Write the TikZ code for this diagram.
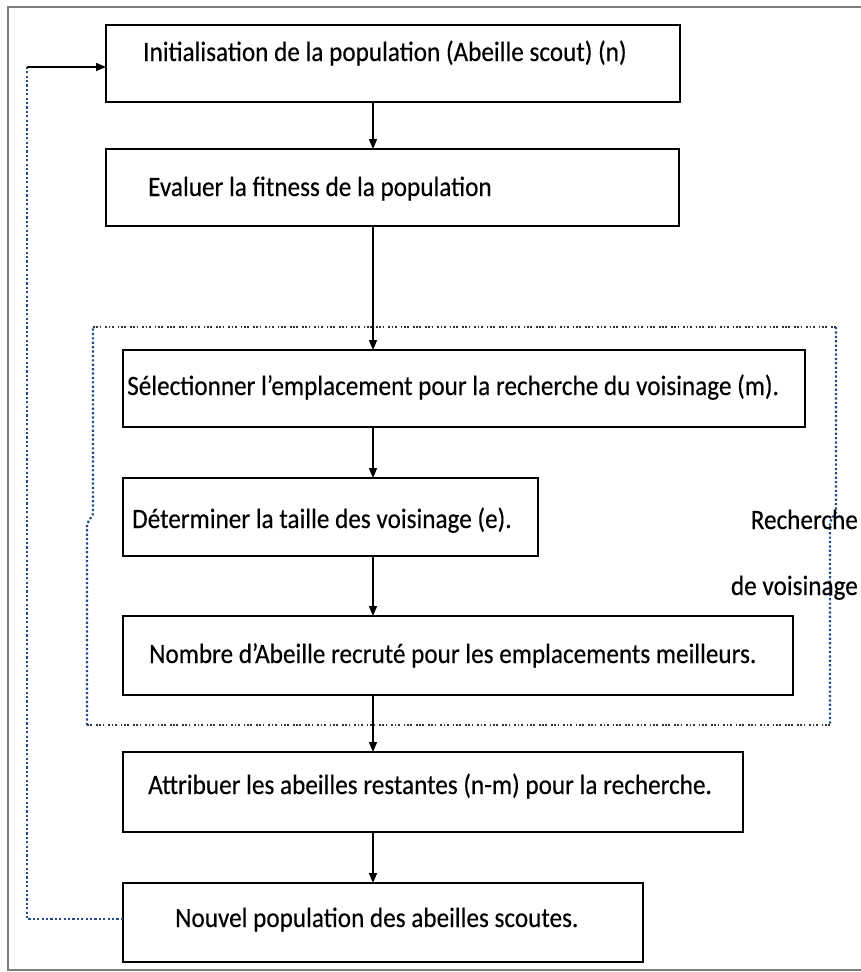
\documentclass[tikz,border=0pt]{standalone}
\usepackage{fontspec}
\setmainfont{Carlito}[FakeStretch=0.9,FakeBold=0.3]
\usepackage{tikz}
\usetikzlibrary{arrows.meta,positioning,calc}
\usepackage{xcolor}
\definecolor{dotblue} {RGB}{35,75,135}
\definecolor{framegray}{RGB}{125,125,125}

\begin{document}
\begin{tikzpicture}[x=1pt,y=-1pt,
          blk/.style={draw,line width=2pt,inner sep=0pt,outer sep=0pt,anchor=north west},
          txt/.style={inner sep=0pt,anchor=base west,font=\fontsize{28}{32}\selectfont},
          arr/.style={-{Triangle[length=10pt,width=8pt]},line width=1.5pt},
          bluedots/.style={dotblue,line width=2.3pt,dash pattern=on 2.2pt off 2.2pt},
          greydots/.style={black!80,line width=1.9pt,
                           dash pattern=on 1.7pt off 1.6pt on 1.7pt off 1.6pt on 1.7pt off 4pt}
      ]
        \useasboundingbox (0,0) rectangle (861,972);
        % outer frame
        \draw[framegray,line width=1.3pt] (861,7) -- (8,7) -- (8,970) -- (861,970);

        % boxes
        \node[blk,minimum width=574,minimum height=77] (init)    at (106,25)  {};
        \node[blk,minimum width=573,minimum height=77] (eval)    at (106,149) {};
        \node[blk,minimum width=682,minimum height=77] (select)  at (123,350) {};
        \node[blk,minimum width=415,minimum height=78] (size)    at (123,478) {};
        \node[blk,minimum width=670,minimum height=79] (recruit) at (123,616) {};
        \node[blk,minimum width=620,minimum height=80] (assign)  at (123,752) {};
        \node[blk,minimum width=520,minimum height=79] (newpop)  at (123,883) {};

        % texts
        \node[txt] (tinit)    at (143,61)  {Initialisation de la population (Abeille scout) (n)};
        \node[txt] (teval)    at (148,196) {Evaluer la fitness de la population};
        \node[txt] (tselect)  at (127,395) {Sélectionner l’emplacement pour la recherche du voisinage (m).};
        \node[txt] (tsize)    at (132,528) {Déterminer la taille des voisinage (e).};
        \node[txt] (trecruit) at (149,663) {Nombre d’Abeille recruté pour les emplacements meilleurs.};
        \node[txt] (tassign)  at (148,794) {Attribuer les abeilles restantes (n-m) pour la recherche.};
        \node[txt] (tnewpop)  at (175,927) {Nouvel population des abeilles scoutes.};

        % neighbourhood search group
        \draw[greydots] (93,327) -- (836,327);
        \draw[bluedots] (836,327) -- (836,512) -- (830,522) -- (830,725);
        \draw[greydots] (830,725) -- (87,725);
        \draw[bluedots] (87,725) -- (87,524) -- (93,514) -- (93,327);
        \node[txt,anchor=base east] (rech) at (858,529) {Recherche};
        \node[txt,anchor=base east] (vois) at (858,595) {de voisinage};

        % main flow
        \coordinate (spine) at (373,0);
        \foreach \a/\b in {init/eval,eval/select,select/size,size/recruit,recruit/assign,assign/newpop}
          \draw[arr] (\a.south -| spine) -- (\b.north -| spine);

        % loop back
        \coordinate (lp) at (27,67);
        \draw[bluedots] (newpop.west |- 0,919) -| (lp);
        \draw[arr] (lp) -- (lp -| init.west);
      \end{tikzpicture}
\end{document}
